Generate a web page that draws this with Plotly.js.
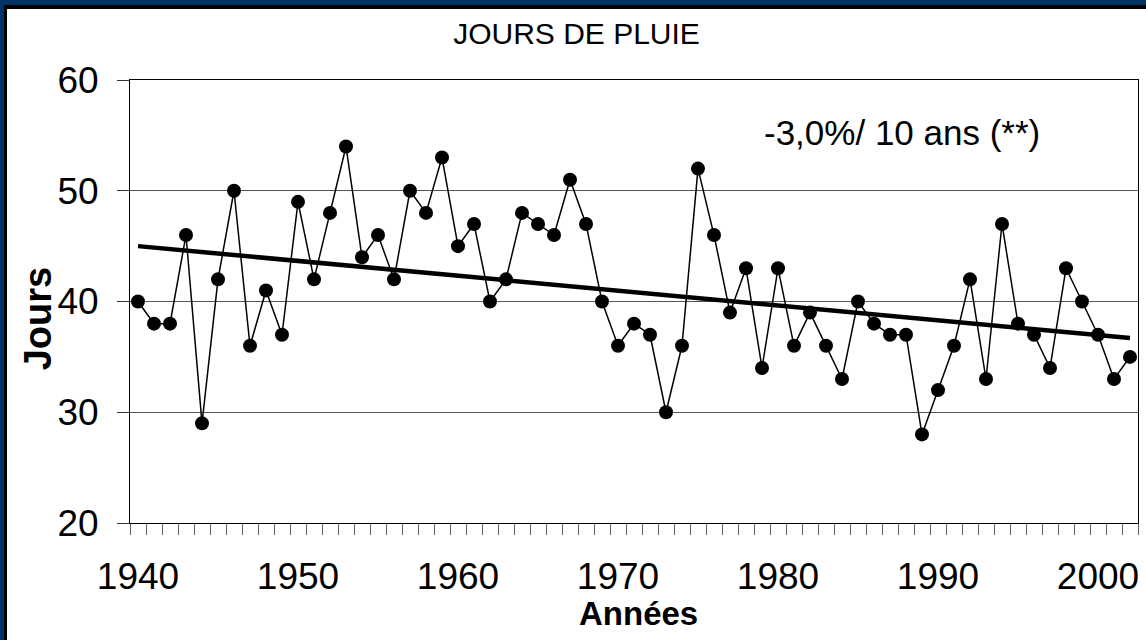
<!DOCTYPE html>
<html>
<head>
<meta charset="utf-8">
<script src="https://cdn.plot.ly/plotly-3.0.1.min.js"></script>
<style>
  html, body { margin: 0; padding: 0; background: #ffffff; }
  #frame { position: absolute; left: 0; top: 0; width: 1146px; height: 640px; background: #ffffff; overflow: hidden; }
  #navyTop { position: absolute; left: 0; top: 0; width: 1146px; height: 5px; background: #003366; }
  #navyLeft { position: absolute; left: 0; top: 0; width: 4px; height: 640px; background: #003366; }
  #blackTop { position: absolute; left: 4px; top: 5px; width: 1142px; height: 4px; background: #000000; }
  #blackLeft { position: absolute; left: 4px; top: 5px; width: 3px; height: 635px; background: #000000; }
  #chart { position: absolute; left: 7px; top: 9px; width: 1139px; height: 631px; }
</style>
</head>
<body>
<div id="frame">
  <div id="navyTop"></div>
  <div id="navyLeft"></div>
  <div id="blackTop"></div>
  <div id="blackLeft"></div>
  <div id="chart"></div>
</div>
<script>
// ---- Data ----
const years = [1940,1941,1942,1943,1944,1945,1946,1947,1948,1949,
               1950,1951,1952,1953,1954,1955,1956,1957,1958,1959,
               1960,1961,1962,1963,1964,1965,1966,1967,1968,1969,
               1970,1971,1972,1973,1974,1975,1976,1977,1978,1979,
               1980,1981,1982,1983,1984,1985,1986,1987,1988,1989,
               1990,1991,1992,1993,1994,1995,1996,1997,1998,1999,
               2000,2001,2002];
const rainDays = [40,38,38,46,29,42,50,36,41,37,
                  49,42,48,54,44,46,42,50,48,53,
                  45,47,40,42,48,47,46,51,47,40,
                  36,38,37,30,36,52,46,39,43,34,
                  43,36,39,36,33,40,38,37,37,28,
                  32,36,42,33,47,38,37,34,43,40,
                  37,33,35];
const trendYears = [1940, 2002];
const trendValues = [45.0, 36.7];
const xTickYears = [1940,1950,1960,1970,1980,1990,2000];
const xTickLabels = ['1940','1950','1960','1970','1980','1990','2000'];
const yTickValues = [20,30,40,50,60];
const yTickLabels = ['20','30','40','50','60'];
const chartTitle = 'JOURS DE PLUIE';
const xTitle = 'Années';
const yTitle = 'Jours';
const trendNote = '-3,0%/ 10 ans (**)';

// category boundaries for the small tick marks
const boundaries = years.map(y => y - 0.5).concat([years[years.length - 1] + 0.5]);

const FONT = '"Liberation Sans", Arial, sans-serif';

const traces = [
  {
    x: years, y: rainDays, type: 'scatter', mode: 'lines+markers',
    line: {color: '#000000', width: 1.5},
    marker: {color: '#000000', size: 14},
    hoverinfo: 'x+y', showlegend: false
  },
  {
    x: trendYears, y: trendValues, type: 'scatter', mode: 'lines',
    line: {color: '#000000', width: 4.5},
    hoverinfo: 'skip', showlegend: false
  }
];

const layout = {
  width: 1139, height: 631,
  paper_bgcolor: '#ffffff', plot_bgcolor: '#ffffff',
  margin: {l: 123, r: 8, t: 71, b: 117, pad: 0},
  font: {family: FONT, color: '#000000'},
  title: {
    text: chartTitle, font: {family: FONT, size: 30, color: '#000000'},
    x: 0.5, xref: 'container', xanchor: 'center',
    y: 0.9604, yref: 'container', yanchor: 'middle'
  },
  xaxis: {
    range: [1939.5, 2002.5],
    tickmode: 'array', tickvals: xTickYears, ticktext: xTickLabels,
    ticks: '', ticklabelstandoff: 21,
    tickfont: {family: FONT, size: 37, color: '#000000'},
    showgrid: false, zeroline: false,
    showline: true, linecolor: '#000000', linewidth: 1, mirror: true,
    minor: {tickmode: 'array', tickvals: boundaries, ticks: 'outside', ticklen: 11, tickwidth: 1, tickcolor: '#666666', showgrid: false},
    fixedrange: true
  },
  yaxis: {
    range: [20, 60],
    tickmode: 'array', tickvals: yTickValues, ticktext: yTickLabels,
    ticks: 'outside', ticklen: 12, tickwidth: 1, tickcolor: '#333333',
    ticklabelstandoff: 11,
    tickfont: {family: FONT, size: 37, color: '#000000'},
    showgrid: true, gridcolor: '#555555', gridwidth: 1, zeroline: false,
    showline: true, linecolor: '#000000', linewidth: 1, mirror: true,
    fixedrange: true
  },
  annotations: [
    {
      text: trendNote, xref: 'paper', yref: 'paper', x: 0.627, y: 0.8804,
      xanchor: 'left', yanchor: 'middle', showarrow: false,
      font: {family: FONT, size: 35, color: '#000000'}
    },
    {
      text: '<b>' + xTitle + '</b>', xref: 'paper', yref: 'paper', x: 0.504, y: -0.2043,
      xanchor: 'center', yanchor: 'middle', showarrow: false,
      font: {family: FONT, size: 33, color: '#000000'}
    },
    {
      text: '<b>' + yTitle + '</b>', xref: 'paper', yref: 'paper', x: -0.0913, y: 0.462,
      xanchor: 'center', yanchor: 'middle', textangle: -90, showarrow: false,
      font: {family: FONT, size: 38, color: '#000000'}
    }
  ]
};

Plotly.newPlot('chart', traces, layout, {staticPlot: true, displayModeBar: false});
</script>
</body>
</html>
